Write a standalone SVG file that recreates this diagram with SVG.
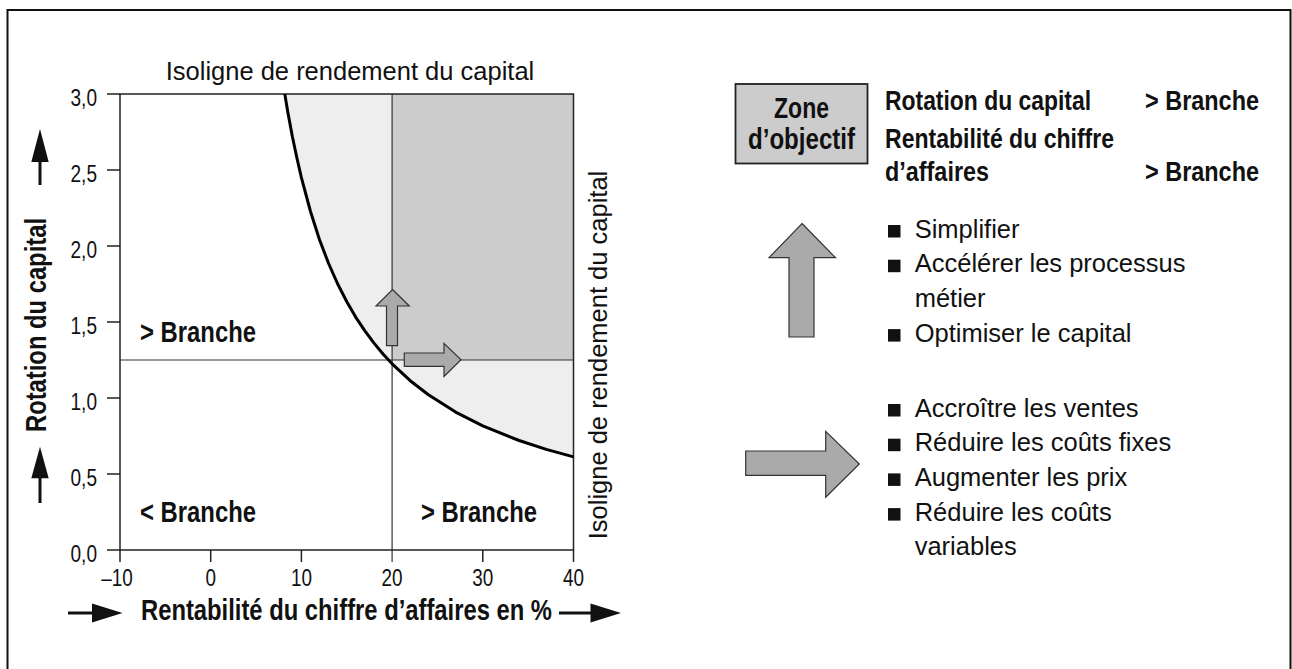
<svg xmlns="http://www.w3.org/2000/svg" width="1292" height="669" viewBox="0 0 1292 669">
<style>
.num{font-family:"Liberation Sans",Arial,sans-serif;font-size:23px;fill:#111}
.bold{font-family:"Liberation Sans",Arial,sans-serif;font-size:29px;font-weight:bold;fill:#111}
.bold28{font-family:"Liberation Sans",Arial,sans-serif;font-size:28px;font-weight:bold;fill:#111}
.reg{font-family:"Liberation Sans",Arial,sans-serif;font-size:25.5px;fill:#111}
.ln{stroke:#222;stroke-width:1.5;fill:none}
.thin{stroke:#333;stroke-width:1.2;fill:none}
.garrow{fill:#aaaaaa;stroke:#333;stroke-width:1.2;stroke-linejoin:miter}
.bk{fill:#111}
</style>
<rect width="1292" height="669" fill="#ffffff"/>
<path id="frame" d="M7.5,669 V10 H1290.5 V669" fill="none" stroke="#111" stroke-width="2"/>

<g id="plot">
  <path d="M284.8,94 L573.5,94 L573.5,456.9 L546.3,449.4 L519.1,440.5 L482.8,425.9 L455.6,412.1 L428.4,394.8 L410.2,380.7 L392.1,363.8 L383,354 L374,343.1 L364.9,330.9 L355.8,317.3 L346.8,301.7 L337.7,284 L328.6,263.5 L319.5,239.7 L310.5,211.5 L301.4,177.6 L296.9,158 L292.3,136.2 L287.8,111.9 Z" fill="#eeeeee"/>
  <rect x="392.1" y="94" width="181.4" height="266" fill="#cccccc"/>
  <line class="thin" x1="120" y1="360" x2="573.5" y2="360"/>
  <line class="thin" x1="392.1" y1="94" x2="392.1" y2="562"/>
  <path class="ln" d="M120,94 H573.5 V550 H120 Z"/>
  <path class="ln" d="M107,94 H120 M107,170 H120 M107,246 H120 M107,322 H120 M107,398 H120 M107,474 H120 M107,550 H120 M120,550 V562 M210.7,550 V562 M301.4,550 V562 M482.8,550 V562 M573.5,550 V562"/>
  <path d="M284.8,94 L287.8,111.9 L292.3,136.2 L296.9,158 L301.4,177.6 L310.5,211.5 L319.5,239.7 L328.6,263.5 L337.7,284 L346.8,301.7 L355.8,317.3 L364.9,330.9 L374,343.1 L383,354 L392.1,363.8 L410.2,380.7 L428.4,394.8 L455.6,412.1 L482.8,425.9 L519.1,440.5 L546.3,449.4 L573.5,456.9" fill="none" stroke="#000" stroke-width="3" stroke-linejoin="round"/>
  <polygon class="garrow" points="392.5,289.5 409.3,306 397.5,306 397.5,345.7 386.5,345.7 386.5,306 376,306"/>
  <polygon class="garrow" points="404.3,353 444,353 444,343.3 461,359.7 444,376.5 444,366.3 404.3,366.3"/>
</g>

<g id="axis-labels">
  <text class="num" x="97" y="105.5" text-anchor="end" textLength="26.5" lengthAdjust="spacingAndGlyphs">3,0</text>
  <text class="num" x="97" y="181.5" text-anchor="end" textLength="26.5" lengthAdjust="spacingAndGlyphs">2,5</text>
  <text class="num" x="97" y="257.5" text-anchor="end" textLength="26.5" lengthAdjust="spacingAndGlyphs">2,0</text>
  <text class="num" x="97" y="333.5" text-anchor="end" textLength="26.5" lengthAdjust="spacingAndGlyphs">1,5</text>
  <text class="num" x="97" y="409.5" text-anchor="end" textLength="26.5" lengthAdjust="spacingAndGlyphs">1,0</text>
  <text class="num" x="97" y="485.5" text-anchor="end" textLength="26.5" lengthAdjust="spacingAndGlyphs">0,5</text>
  <text class="num" x="97" y="561.5" text-anchor="end" textLength="26.5" lengthAdjust="spacingAndGlyphs">0,0</text>
  <text class="num" x="117" y="586" text-anchor="middle" textLength="31.5" lengthAdjust="spacingAndGlyphs">–10</text>
  <text class="num" x="210.7" y="586" text-anchor="middle" textLength="10.5" lengthAdjust="spacingAndGlyphs">0</text>
  <text class="num" x="301.4" y="586" text-anchor="middle" textLength="21" lengthAdjust="spacingAndGlyphs">10</text>
  <text class="num" x="392.1" y="586" text-anchor="middle" textLength="21" lengthAdjust="spacingAndGlyphs">20</text>
  <text class="num" x="482.8" y="586" text-anchor="middle" textLength="21" lengthAdjust="spacingAndGlyphs">30</text>
  <text class="num" x="573.5" y="586" text-anchor="middle" textLength="21" lengthAdjust="spacingAndGlyphs">40</text>
  <text class="reg" x="350" y="80" text-anchor="middle">Isoligne de rendement du capital</text>
  <text class="reg" transform="translate(607,355) rotate(-90)" text-anchor="middle">Isoligne de rendement du capital</text>
  <text class="bold" transform="translate(46,325) rotate(-90)" text-anchor="middle" textLength="214" lengthAdjust="spacingAndGlyphs">Rotation du capital</text>
  <text class="bold" x="141" y="620" textLength="411" lengthAdjust="spacingAndGlyphs">Rentabilité du chiffre d’affaires en %</text>
  <text class="bold" x="140" y="342" textLength="116" lengthAdjust="spacingAndGlyphs">&gt; Branche</text>
  <text class="bold" x="140" y="522" textLength="116" lengthAdjust="spacingAndGlyphs">&lt; Branche</text>
  <text class="bold" x="421" y="522" textLength="116" lengthAdjust="spacingAndGlyphs">&gt; Branche</text>
</g>

<g id="axis-arrows">
  <rect class="bk" x="38.5" y="158" width="3" height="27"/>
  <polygon class="bk" points="40,129 48.7,162 31.3,162"/>
  <rect class="bk" x="38.5" y="475" width="3" height="28"/>
  <polygon class="bk" points="40,446.7 48.7,478.3 31.3,478.3"/>
  <rect class="bk" x="68" y="611.5" width="27" height="3"/>
  <polygon class="bk" points="122.5,613 92,603.5 92,622.5"/>
  <rect class="bk" x="559" y="611.5" width="34" height="3"/>
  <polygon class="bk" points="621,613 590.5,603.5 590.5,622.5"/>
</g>

<g id="zone">
  <rect x="735.5" y="84" width="132" height="79.5" fill="#cccccc" stroke="#222" stroke-width="1.8"/>
  <text class="bold" x="801.5" y="118" text-anchor="middle" textLength="55" lengthAdjust="spacingAndGlyphs">Zone</text>
  <text class="bold" x="801.5" y="149" text-anchor="middle" textLength="107" lengthAdjust="spacingAndGlyphs">d’objectif</text>
</g>

<g id="zone-text">
  <text class="bold28" x="885" y="110" textLength="206" lengthAdjust="spacingAndGlyphs">Rotation du capital</text>
  <text class="bold28" x="1259" y="110" text-anchor="end" textLength="114" lengthAdjust="spacingAndGlyphs">&gt; Branche</text>
  <text class="bold28" x="885" y="148" textLength="229" lengthAdjust="spacingAndGlyphs">Rentabilité du chiffre</text>
  <text class="bold28" x="885" y="181" textLength="104" lengthAdjust="spacingAndGlyphs">d’affaires</text>
  <text class="bold28" x="1259" y="181" text-anchor="end" textLength="114" lengthAdjust="spacingAndGlyphs">&gt; Branche</text>
</g>

<g id="arrows">
  <polygon class="garrow" points="802,223.5 835.5,257.7 814,257.7 814,337 789,337 789,257.7 769,257.7"/>
  <polygon class="garrow" points="745.7,451 825.7,451 825.7,431.3 859.3,464 825.7,497.3 825.7,475.3 745.7,475.3"/>
</g>

<g id="list-capital">
  <rect class="bk" x="888" y="225" width="12.5" height="12.5"/>
  <text class="reg" x="914.7" y="237.5">Simplifier</text>
  <rect class="bk" x="888" y="259.7" width="12.5" height="12.5"/>
  <text class="reg" x="914.7" y="272.2">Accélérer les processus</text>
  <text class="reg" x="914.7" y="306.9">métier</text>
  <rect class="bk" x="888" y="329.1" width="12.5" height="12.5"/>
  <text class="reg" x="914.7" y="341.6">Optimiser le capital</text>
</g>

<g id="list-rentabilite">
  <rect class="bk" x="888" y="404" width="12.5" height="12.5"/>
  <text class="reg" x="914.7" y="416.5">Accroître les ventes</text>
  <rect class="bk" x="888" y="438.7" width="12.5" height="12.5"/>
  <text class="reg" x="914.7" y="451.2">Réduire les coûts fixes</text>
  <rect class="bk" x="888" y="473.4" width="12.5" height="12.5"/>
  <text class="reg" x="914.7" y="485.9">Augmenter les prix</text>
  <rect class="bk" x="888" y="508.1" width="12.5" height="12.5"/>
  <text class="reg" x="914.7" y="520.6">Réduire les coûts</text>
  <text class="reg" x="914.7" y="555.3">variables</text>
</g>
</svg>
